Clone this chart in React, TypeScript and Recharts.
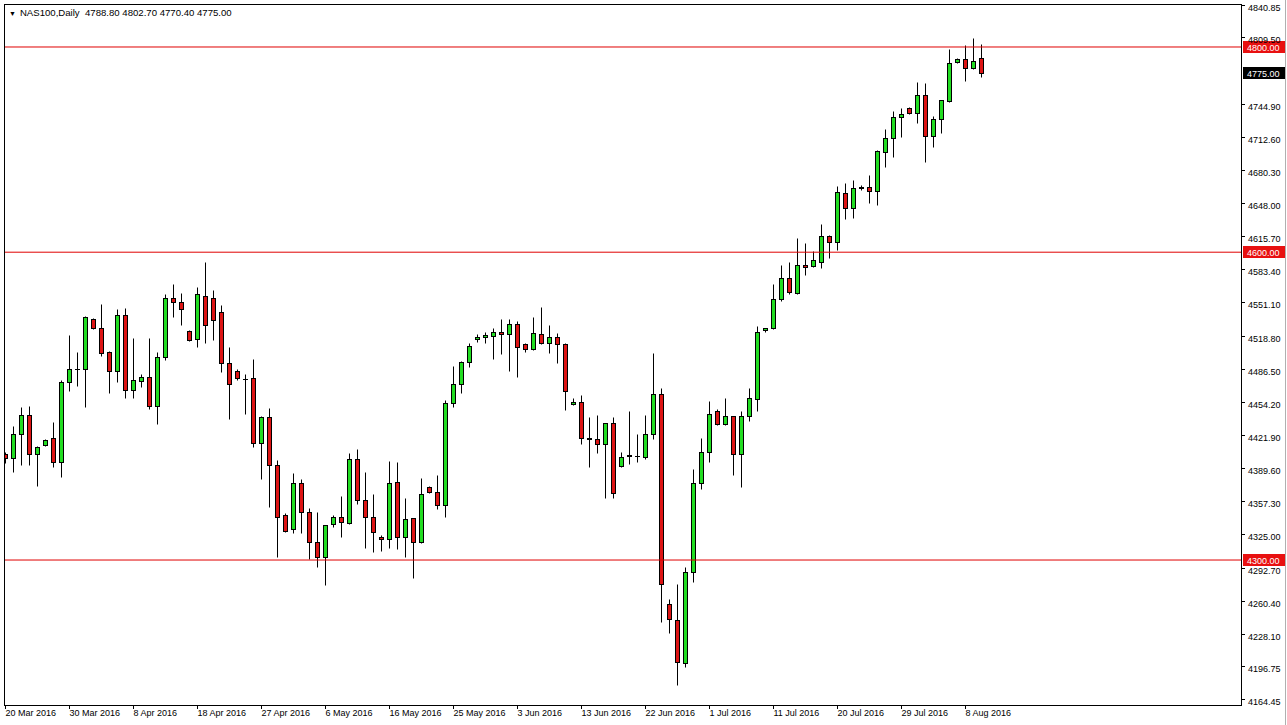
import React from 'react';
import { ComposedChart, Bar, XAxis, YAxis, ReferenceLine } from 'recharts';

const OPEN = [4403.3,4399.4,4422.8,4441.3,4403.3,4412.1,4418.9,4395.5,4473.5,4486.1,4486.1,4534.9,4526.1,4502.7,4484.2,4538.8,4465.7,4474.4,4478.3,4450.1,4497.8,4555.4,4551.5,4523.2,4515.4,4557.3,4555.4,4541.7,4492.0,4484.2,4476.9,4477.4,4414.0,4439.4,4392.6,4343.8,4330.2,4375.0,4346.8,4317.5,4302.9,4335.1,4341.9,4336.0,4398.4,4358.5,4341.9,4322.4,4320.4,4376.0,4322.4,4340.9,4317.5,4371.1,4366.3,4353.6,4453.0,4471.5,4493.0,4515.4,4517.3,4518.3,4522.2,4520.3,4530.0,4510.5,4505.6,4520.3,4511.5,4517.3,4510.5,4452.0,4454.0,4418.9,4417.9,4413.1,4433.5,4391.6,4401.4,4401.4,4400.4,4422.8,4461.8,4257.1,4241.5,4199.6,4288.3,4375.0,4405.3,4445.2,4432.5,4440.3,4403.3,4440.3,4456.9,4524.2,4526.1,4554.4,4574.8,4560.2,4587.5,4586.5,4590.4,4615.8,4609.9,4657.7,4643.1,4663.5,4663.5,4659.6,4697.7,4711.3,4731.8,4740.5,4735.7,4753.2,4713.2,4729.8,4747.4,4785.4,4788.3,4779.5,4788.8];
const HIGH = [4405.3,4430.6,4449.1,4450.1,4411.1,4417.9,4434.5,4475.4,4519.3,4502.7,4537.8,4535.9,4549.5,4503.7,4544.6,4545.6,4516.4,4481.3,4516.4,4502.7,4559.3,4569.0,4560.2,4524.2,4566.1,4590.4,4563.2,4548.5,4507.6,4486.1,4481.3,4495.9,4440.4,4448.1,4397.5,4345.8,4384.8,4378.9,4350.7,4346.8,4334.6,4343.8,4362.4,4404.3,4408.2,4385.8,4364.3,4324.3,4396.5,4395.5,4360.4,4341.4,4379.9,4372.1,4382.8,4455.9,4489.1,4493.9,4511.5,4520.3,4522.2,4526.1,4534.9,4534.9,4532.9,4511.5,4536.8,4546.6,4529.0,4521.2,4511.5,4457.9,4460.8,4439.4,4441.3,4434.0,4439.4,4405.3,4445.2,4422.8,4441.3,4501.7,4467.6,4262.0,4276.6,4293.2,4388.7,4418.9,4454.9,4447.1,4457.9,4440.8,4445.2,4467.6,4528.1,4526.6,4569.0,4587.5,4590.4,4613.8,4609.0,4601.2,4627.5,4616.3,4664.5,4667.4,4670.4,4665.5,4675.2,4699.6,4720.1,4737.6,4740.5,4741.5,4765.9,4764.9,4732.7,4748.8,4798.0,4789.3,4801.9,4808.8,4802.7];
const LOW = [4394.5,4385.8,4392.6,4392.6,4372.1,4411.1,4390.6,4380.9,4464.7,4469.6,4449.1,4525.1,4498.8,4462.8,4473.5,4457.9,4457.9,4468.6,4447.1,4432.5,4494.9,4536.8,4529.0,4513.4,4507.6,4511.5,4514.4,4483.2,4437.4,4475.4,4442.3,4410.1,4378.9,4351.6,4302.9,4327.3,4326.3,4326.3,4300.9,4293.2,4275.6,4332.1,4322.4,4335.1,4354.6,4311.7,4307.8,4308.7,4311.7,4310.7,4302.9,4282.4,4316.5,4365.3,4349.7,4341.9,4449.1,4462.8,4488.1,4512.5,4511.5,4495.9,4500.8,4484.2,4478.3,4502.7,4505.1,4510.5,4501.7,4492.0,4446.2,4451.0,4413.1,4390.6,4404.3,4360.4,4360.4,4390.6,4393.6,4395.5,4398.4,4417.9,4239.6,4228.8,4178.2,4195.7,4278.6,4369.2,4395.5,4431.6,4432.0,4382.8,4371.1,4435.5,4445.2,4522.2,4525.6,4552.4,4559.3,4559.3,4577.8,4585.6,4584.6,4594.3,4602.1,4632.4,4633.3,4660.6,4647.9,4646.0,4683.0,4692.8,4712.3,4734.7,4725.9,4687.9,4702.5,4716.2,4746.4,4784.4,4766.9,4779.0,4770.4];
const CLOSE = [4399.4,4422.8,4441.3,4403.3,4410.1,4417.0,4395.5,4473.5,4486.1,4486.6,4536.8,4526.1,4501.7,4484.2,4538.8,4465.7,4475.4,4478.3,4450.1,4497.8,4555.4,4551.5,4544.6,4514.4,4559.3,4529.0,4533.9,4492.0,4471.5,4477.4,4476.4,4414.0,4439.4,4392.6,4341.9,4328.2,4375.0,4346.8,4317.5,4302.9,4334.1,4341.9,4337.0,4398.4,4358.5,4341.9,4327.3,4320.4,4375.0,4322.4,4339.9,4317.5,4364.3,4366.3,4353.6,4453.0,4471.5,4493.0,4508.6,4517.3,4519.3,4522.2,4520.3,4530.0,4507.6,4505.6,4521.2,4511.5,4517.3,4510.5,4464.7,4454.0,4418.9,4418.4,4413.1,4433.5,4365.3,4400.4,4401.9,4400.9,4422.8,4461.8,4276.6,4242.5,4200.6,4288.3,4375.0,4405.3,4442.3,4432.5,4440.3,4403.3,4440.3,4457.9,4522.2,4526.1,4554.4,4574.8,4561.2,4587.5,4585.6,4592.4,4615.8,4609.9,4658.7,4643.1,4662.6,4663.0,4659.6,4698.6,4711.3,4731.8,4734.7,4735.7,4753.2,4713.2,4729.8,4748.3,4784.4,4788.3,4779.5,4786.3,4775.0];

const DATE_LABELS = ['20 Mar 2016','30 Mar 2016','8 Apr 2016','18 Apr 2016','27 Apr 2016','6 May 2016','16 May 2016','25 May 2016','3 Jun 2016','13 Jun 2016','22 Jun 2016','1 Jul 2016','11 Jul 2016','20 Jul 2016','29 Jul 2016','8 Aug 2016'];
const LABEL_EVERY = 8;
const PRICE_TICKS = [4840.85,4809.50,4744.90,4712.60,4680.30,4648.00,4615.70,4583.40,4551.10,4518.80,4486.50,4454.20,4421.90,4389.60,4357.30,4325.00,4292.70,4260.40,4228.10,4196.75,4164.45];
const LEVELS = [4800, 4600, 4300];
const LAST_PRICE = 4775.0;
const TITLE = 'NAS100,Daily  4788.80 4802.70 4770.40 4775.00';
const Y_MIN = 4158.7;
const Y_MAX = 4841.9;
const TOTAL_SLOTS = 155;

const data = Array.from({ length: TOTAL_SLOTS }, (_, i) =>
  i < OPEN.length
    ? { i, o: OPEN[i], h: HIGH[i], l: LOW[i], c: CLOSE[i], range: [LOW[i], HIGH[i]] }
    : { i, range: undefined }
);
const DATE_TICKS = DATE_LABELS.map((_, k) => k * LABEL_EVERY);

const FONT = '"Liberation Sans", Arial, sans-serif';
const GREEN = '#22dd22';
const RED = '#dd1414';

const Candle = (props: any) => {
  const { x, y, width, height, payload } = props;
  if (!payload || payload.o == null || x == null || y == null) return null;
  const { o, h, l, c } = payload;
  const cx = Math.floor(x + width / 2);
  const k = h - l !== 0 ? height / (h - l) : 0;
  const yO = y + (h - o) * k;
  const yC = y + (h - c) * k;
  const yH = Math.round(y) + 0.5;
  const yL = Math.round(y + height) + 0.5;
  const top = Math.round(Math.min(yO, yC)) + 0.5;
  const bot = Math.round(Math.max(yO, yC)) + 0.5;
  const up = c >= o;
  return (
    <g>
      <line x1={cx + 0.5} x2={cx + 0.5} y1={yH} y2={yL} stroke="#000" strokeWidth={1} />
      {bot - top < 1 ? (
        <line x1={cx - 2} x2={cx + 3} y1={top} y2={top} stroke="#000" strokeWidth={1} />
      ) : (
        <rect x={cx - 1.5} y={top} width={4} height={bot - top} fill={up ? GREEN : RED} stroke="#000" strokeWidth={1} />
      )}
    </g>
  );
};

const DateTick = (props: any) => {
  const { x, payload } = props;
  const idx = payload.value / LABEL_EVERY;
  const label = DATE_LABELS[idx];
  if (!label) return null;
  const px = Math.floor(x) + 0.5;
  return (
    <g>
      <line x1={px} x2={px} y1={706} y2={709} stroke="#000" />
      <text x={px} y={716} fontSize={9} fontFamily={FONT} fill="#000" textAnchor="start">{label}</text>
    </g>
  );
};

const PriceTick = (props: any) => {
  const { y, payload } = props;
  const py = Math.round(y) + 0.5;
  return (
    <g>
      <line x1={1242} x2={1245} y1={py} y2={py} stroke="#000" />
      <text x={1248} y={py + 5} fontSize={9} fontFamily={FONT} fill="#000" textAnchor="start">{Number(payload.value).toFixed(2)}</text>
    </g>
  );
};

const BoxLabel = (fill: string, text: string) => (props: any) => {
  const vb = props.viewBox || {};
  const yy = Math.round(vb.y);
  return (
    <g>
      <rect x={1243} y={yy - 6} width={43} height={12} fill={fill} />
      <text x={1247} y={yy + 4} fontSize={9} fontFamily={FONT} fill="#fff">{text}</text>
    </g>
  );
};

export default function App() {
  return (
    <div style={{ position: 'absolute', left: 0, top: 0, width: 1287, height: 725, background: '#fff', overflow: 'hidden' }}>
      <ComposedChart width={1287} height={725} data={data} margin={{ top: 4, right: 0, bottom: 0, left: 1 }} barCategoryGap={0}>
        <XAxis dataKey="i" type="category" ticks={DATE_TICKS} interval={0} tick={<DateTick />} axisLine={false} tickLine={false} height={20} />
        <YAxis orientation="right" type="number" domain={[Y_MIN, Y_MAX]} allowDataOverflow ticks={PRICE_TICKS} interval={0} tick={<PriceTick />} axisLine={false} tickLine={false} width={46} />
        {LEVELS.map((lv) => (
          <ReferenceLine key={lv} y={lv} stroke="#e00000" strokeWidth={1} label={BoxLabel('#e81010', lv.toFixed(2))} />
        ))}
        <ReferenceLine y={LAST_PRICE} stroke="none" strokeOpacity={0} label={BoxLabel('#000', LAST_PRICE.toFixed(2))} />
        <Bar dataKey="range" isAnimationActive={false} shape={(p: any) => <Candle {...p} />} />
      </ComposedChart>
      <div style={{ position: 'absolute', left: 0, top: 4, width: 4, height: 702, background: '#fff' }} />
      <div style={{ position: 'absolute', left: 4, top: 4, width: 1238, height: 702, boxSizing: 'border-box', border: '1px solid #000', pointerEvents: 'none' }} />
      <div style={{ position: 'absolute', left: 1285, top: 0, width: 1, height: 725, background: '#b0b0b0' }} />
      <div style={{ position: 'absolute', left: 9, top: 7, fontFamily: FONT, fontSize: 9.6, color: '#000', whiteSpace: 'pre', lineHeight: '11px' }}>
        <span style={{ fontSize: 7, marginRight: 4 }}>▼</span>{TITLE}
      </div>
    </div>
  );
}
